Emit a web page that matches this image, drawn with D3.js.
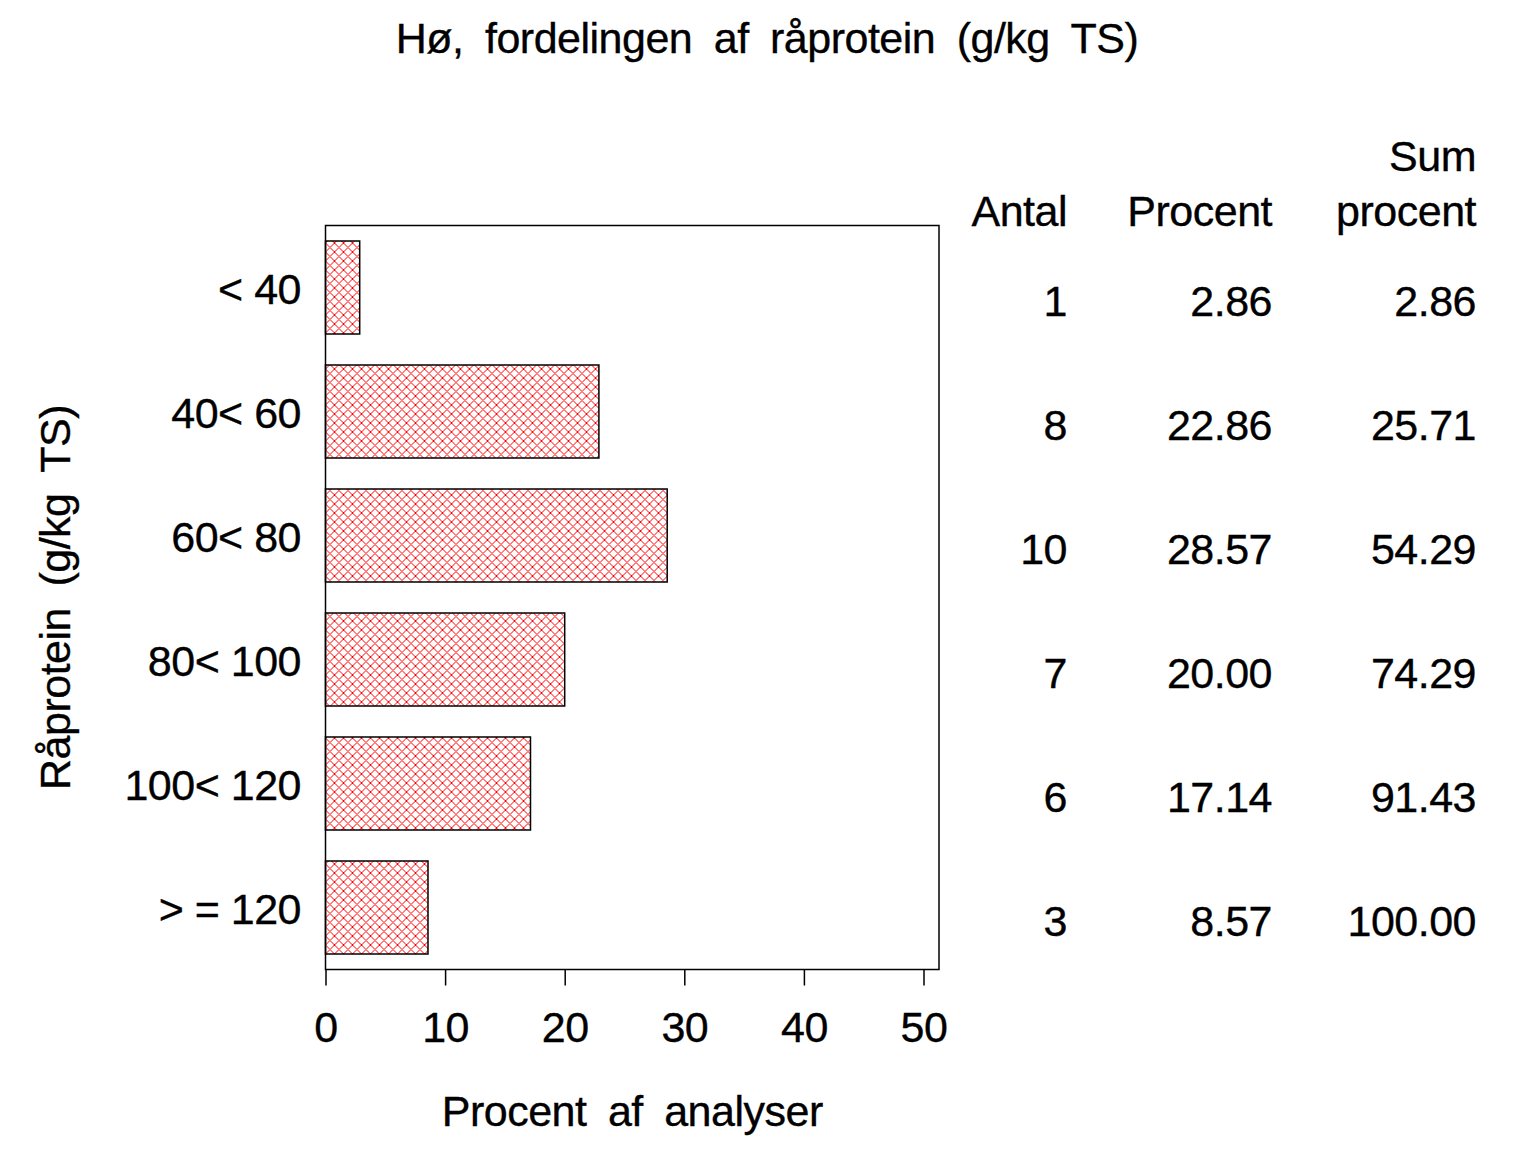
<!DOCTYPE html>
<html>
<head>
<meta charset="utf-8">
<script src="https://cdn.jsdelivr.net/npm/d3@7"></script>
<style>
  body { margin: 0; background: #fff; }
  text { font-family: "Liberation Sans", Arial, Helvetica, sans-serif; fill: #000; stroke: #000; stroke-width: 0.35px; letter-spacing: -0.5px; }
</style>
</head>
<body>
<svg id="chart" width="1536" height="1152"></svg>
<script>
// data
const categories = ["< 40", "40< 60", "60< 80", "80< 100", "100< 120", "> = 120"];
const antal = [1, 8, 10, 7, 6, 3];
const procent = [2.86, 22.86, 28.57, 20.00, 17.14, 8.57];
const sumProcent = [2.86, 25.71, 54.29, 74.29, 91.43, 100.00];
const xTicks = [0, 10, 20, 30, 40, 50];

const svg = d3.select("#chart");
const fs = 43;

const frame = { left: 325.5, right: 939, top: 225.5, bottom: 969.5 };

const x = d3.scaleLinear().domain([0, 50]).range([frame.left, 923.5]);
const y = d3.scaleBand()
  .domain(categories)
  .range([frame.top, frame.bottom])
  .paddingInner(0.25)
  .paddingOuter(0.125);

// kratering (cross hatch)
const defs = svg.append("defs");
const pat = defs.append("pattern")
  .attr("id", "hatch")
  .attr("patternUnits", "userSpaceOnUse")
  .attr("width", 9)
  .attr("height", 9)
  .attr("x", frame.left)
  .attr("y", 0);
pat.append("path")
  .attr("d", "M0,0 L9,9 M9,0 L0,9 M-1,8 L1,10 M8,-1 L10,1 M-1,1 L1,-1 M8,10 L10,8")
  .attr("stroke", "#ff0000")
  .attr("stroke-width", 1)
  .attr("shape-rendering", "crispEdges")
  .attr("fill", "none");

// title
svg.append("text")
  .attr("x", 767)
  .attr("y", 53)
  .attr("text-anchor", "middle")
  .attr("font-size", fs)
  .attr("word-spacing", 10)
  .text("Hø, fordelingen af råprotein (g/kg TS)");

// frame
svg.append("rect")
  .attr("x", frame.left)
  .attr("y", frame.top)
  .attr("width", frame.right - frame.left)
  .attr("height", frame.bottom - frame.top)
  .attr("fill", "none")
  .attr("stroke", "#000")
  .attr("stroke-width", 1.5);

// bars
svg.append("g")
  .selectAll("rect")
  .data(categories)
  .join("rect")
  .attr("x", x(0))
  .attr("y", d => y(d))
  .attr("width", (d, i) => x(procent[i]) - x(0))
  .attr("height", y.bandwidth())
  .attr("fill", "url(#hatch)")
  .attr("stroke", "#000")
  .attr("stroke-width", 1.5);

// x axis
const xAxis = svg.append("g")
  .attr("transform", `translate(0, ${frame.bottom})`)
  .call(d3.axisBottom(x).tickValues(xTicks).tickSize(16).tickPadding(26).tickFormat(d3.format("d")));
xAxis.select(".domain").remove();
xAxis.selectAll("line").attr("stroke-width", 1.5);
xAxis.selectAll("text")
  .attr("font-size", fs)
  .attr("font-family", "Liberation Sans, Arial, sans-serif");

// category labels
svg.append("g")
  .selectAll("text")
  .data(categories)
  .join("text")
  .attr("x", 301)
  .attr("y", d => y(d) + y.bandwidth() / 2 + 16)
  .attr("text-anchor", "end")
  .attr("font-size", fs)
  .text(d => d);

// axis titles
svg.append("text")
  .attr("x", (frame.left + frame.right) / 2)
  .attr("y", 1126)
  .attr("text-anchor", "middle")
  .attr("font-size", fs)
  .attr("word-spacing", 10)
  .text("Procent af analyser");

svg.append("text")
  .attr("transform", `translate(70, ${(frame.top + frame.bottom) / 2}) rotate(-90)`)
  .attr("text-anchor", "middle")
  .attr("font-size", fs)
  .attr("word-spacing", 10)
  .text("Råprotein (g/kg TS)");

// table
const cols = [
  { right: 1067, header: ["", "Antal"], values: antal.map(d => String(d)) },
  { right: 1272, header: ["", "Procent"], values: procent.map(d => d.toFixed(2)) },
  { right: 1476, header: ["Sum", "procent"], values: sumProcent.map(d => d.toFixed(2)) }
];

cols.forEach(c => {
  const g = svg.append("g");
  g.append("text")
    .attr("x", c.right).attr("y", 171)
    .attr("text-anchor", "end").attr("font-size", fs)
    .text(c.header[0]);
  g.append("text")
    .attr("x", c.right).attr("y", 226)
    .attr("text-anchor", "end").attr("font-size", fs)
    .text(c.header[1]);
  g.selectAll("text.val")
    .data(c.values)
    .join("text")
    .attr("class", "val")
    .attr("x", c.right)
    .attr("y", (d, i) => y(categories[i]) + y.bandwidth() / 2 + 28)
    .attr("text-anchor", "end")
    .attr("font-size", fs)
    .text(d => d);
});
</script>
</body>
</html>
